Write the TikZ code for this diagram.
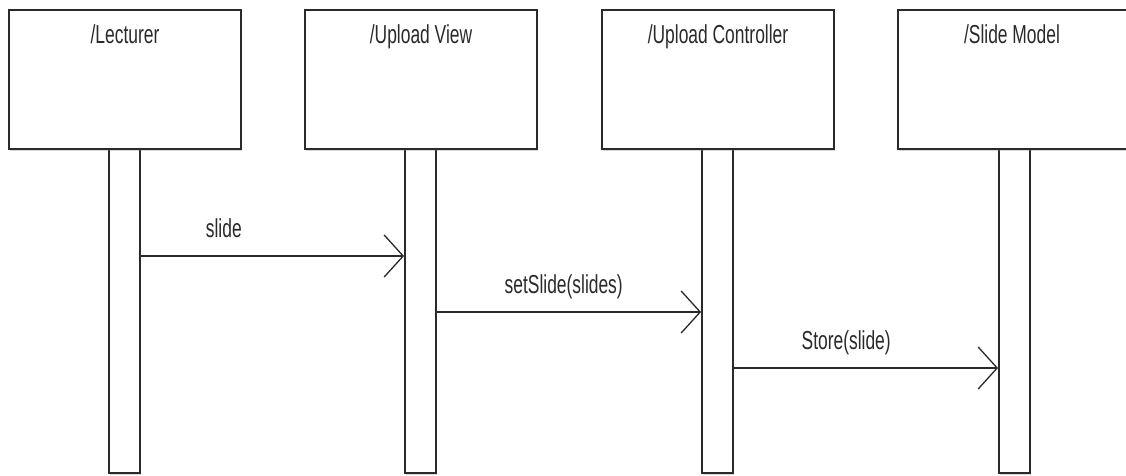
\documentclass[tikz,border=0pt]{standalone}
\usepackage{fontspec}
\setmainfont{Liberation Sans}
\usetikzlibrary{arrows.meta,shadows}
\definecolor{ink}{HTML}{2A2A2A}
\newcommand\narrow[1]{\scalebox{0.67}[1]{#1}}
\tikzset{
  lifehead/.style={draw=ink, line width=1.9pt, fill=white, rectangle,
    minimum width=232pt, minimum height=139pt, inner sep=0pt,
    drop shadow={shadow xshift=1.2pt, shadow yshift=-1.8pt, opacity=0.3}},
  actbar/.style={draw=ink, line width=1.9pt, fill=white, rectangle,
    minimum width=31pt, minimum height=324pt, inner sep=0pt,
    drop shadow={shadow xshift=1.2pt, shadow yshift=-1.5pt, opacity=0.3}},
  headlabel/.style={anchor=base, text=ink, font=\fontsize{26}{30}\selectfont, inner sep=0pt},
  msglabel/.style={anchor=base, text=ink, font=\fontsize{26}{30}\selectfont, inner sep=0pt},
  msg/.style={draw=ink, line width=1.9pt,
    -{Straight Barb[length=19pt, width=42pt, line width=1.3pt]}}
}
\begin{document}
\begin{tikzpicture}[x=1pt, y=-1pt]
  \useasboundingbox (0,0) rectangle (1126,475);
  \clip (0,0) rectangle (1126,475);
  \fill[white] (0,0) rectangle (1126,475);

  % activation bars below each lifeline head
  \node[actbar] (lecbar)   at (124.5,311) {};
  \node[actbar] (viewbar)  at (420.5,311) {};
  \node[actbar] (ctrlbar)  at (717.5,311) {};
  \node[actbar] (slidebar) at (1014.5,311) {};

  % lifeline heads
  \node[lifehead] (lec)   at (125,79.5) {};
  \node[lifehead] (view)  at (421,79.5) {};
  \node[lifehead] (ctrl)  at (718,79.5) {};
  \node[lifehead] (model) at (1014,79.5) {};

  \node[headlabel] (leclbl)   at (125,43)  {\narrow{/Lecturer}};
  \node[headlabel] (viewlbl)  at (421,43)  {\narrow{/Upload View}};
  \node[headlabel] (ctrllbl)  at (718,43)  {\narrow{/Upload Controller}};
  \node[headlabel] (modellbl) at (1012,43) {\narrow{/Slide Model}};

  % message heights
  \coordinate (m1) at (0,256);
  \coordinate (m2) at (0,312);
  \coordinate (m3) at (0,368);

  % messages
  \draw[msg] (lecbar.east |- m1) -- node[msglabel, pos=0.315, yshift=19pt] {\narrow{slide}} (viewbar.west |- m1);
  \draw[msg] (viewbar.east |- m2) -- node[msglabel, pos=0.48, yshift=19pt] {\narrow{setSlide(slides)}} (ctrlbar.west |- m2);
  \draw[msg] (ctrlbar.east |- m3) -- node[msglabel, pos=0.425, yshift=19pt] {\narrow{Store(slide)}} (slidebar.west |- m3);
\end{tikzpicture}
\end{document}
